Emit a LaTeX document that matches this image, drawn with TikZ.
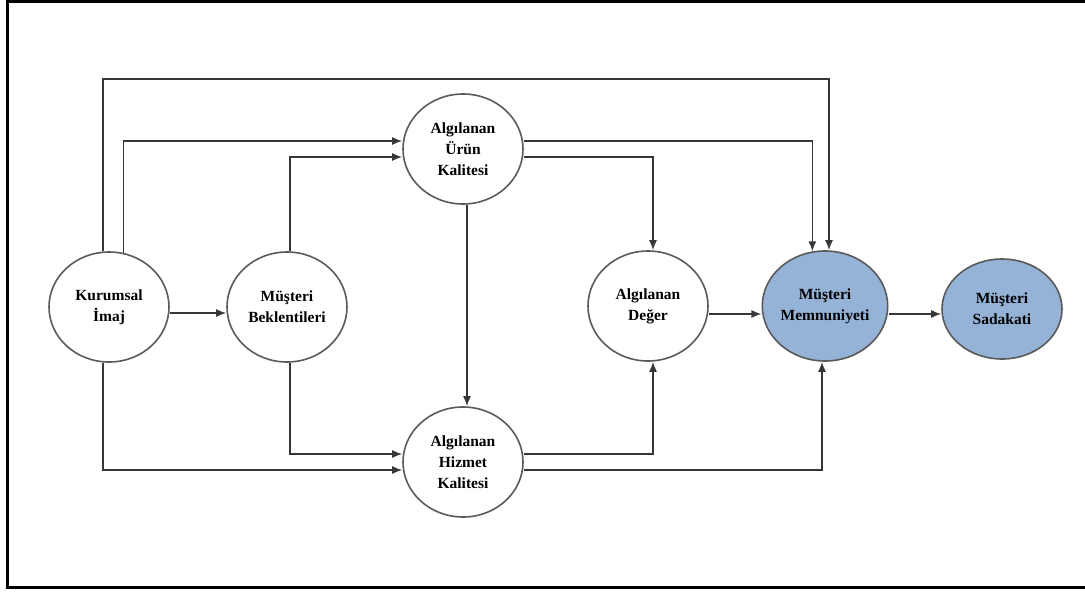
\documentclass[tikz,border=0pt]{standalone}
\usepackage{fontspec}
\setmainfont{Liberation Serif}
\usepackage{tikz}
\usetikzlibrary{shapes.geometric,arrows.meta}
\definecolor{memblue}{RGB}{149,179,215}
\definecolor{edgegray}{RGB}{55,55,55}
\definecolor{rimgray}{RGB}{90,90,90}
\begin{document}
\begin{tikzpicture}[x=1pt,y=-1pt,
      factor/.style={ellipse,draw=rimgray,line width=1.6pt,fill=white,
        minimum width=120pt,minimum height=110pt,inner sep=0pt,
        align=center,font=\fontsize{15.5}{21}\selectfont\bfseries},
      link/.style={draw=edgegray,line width=1.5pt,-{Latex[length=10pt,width=8pt]}},
      frame/.style={line width=3pt}]
    \useasboundingbox (0,0) rectangle (1085,592);
    \draw[frame] (1090,1.5) -- (7.5,1.5) -- (7.5,587.5) -- (1090,587.5);
    \node[factor] (kurum) at (109,307) {Kurumsal\\İmaj};
    \node[factor] (bekl) at (287,307) {Müşteri\\Beklentileri};
    \node[factor] (urun) at (463,149) {Algılanan\\Ürün\\Kalitesi};
    \node[factor] (hizm) at (463,462) {Algılanan\\Hizmet\\Kalitesi};
    \node[factor] (deger) at (648,306) {Algılanan\\Değer};
    \node[factor,fill=memblue] (memn) at (825,306) {Müşteri\\Memnuniyeti};
    \node[factor,fill=memblue,minimum height=100pt] (sadak) at (1002,309) {Müşteri\\Sadakati};
    \draw[link] ([xshift=-6pt]kurum.north) -- ++(0,-172) -| ([xshift=4pt]memn.north);
    \draw[link] (kurum.75.6) |- ([yshift=8pt]urun.west);
    \draw[link] ([xshift=3pt]bekl.north) |- ([yshift=-8pt]urun.west);
    \draw[link] ([yshift=8pt]urun.east) -| (memn.103.6);
    \draw[link] ([yshift=-8pt]urun.east) -| ([xshift=5pt]deger.north);
    \draw[link] ([xshift=4pt]urun.south) -- ([xshift=4pt]hizm.north);
    \draw[link] ([yshift=-6pt]kurum.east) -- ([yshift=-6pt]bekl.west);
    \draw[link] ([xshift=-6pt]kurum.south) |- ([yshift=-8pt]hizm.west);
    \draw[link] ([xshift=3pt]bekl.south) |- ([yshift=8pt]hizm.west);
    \draw[link] ([yshift=8pt]hizm.east) -| ([xshift=5pt]deger.south);
    \draw[link] ([yshift=-8pt]hizm.east) -| ([xshift=-3pt]memn.south);
    \draw[link] ([yshift=-8pt]deger.east) -- ([yshift=-8pt]memn.west);
    \draw[link] ([yshift=-8pt]memn.east) -- ([yshift=-5pt]sadak.west);
  \end{tikzpicture}
\end{document}
